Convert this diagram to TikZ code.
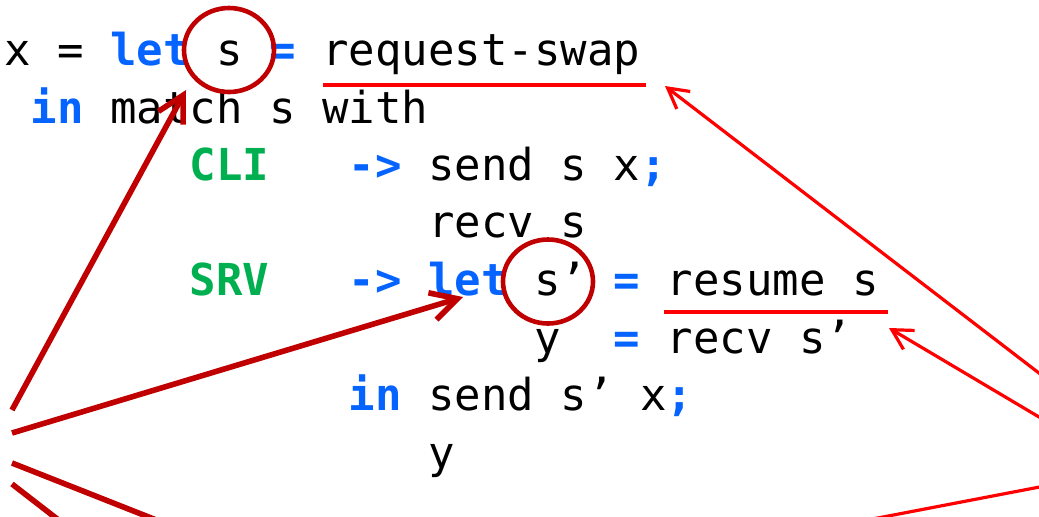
\documentclass[tikz,border=0pt]{standalone}
\usepackage{fontspec}
\setmonofont{DejaVu Sans Mono}
\usetikzlibrary{arrows.meta,shapes.geometric}
\definecolor{kwblue}{RGB}{5,99,255}
\definecolor{kwgreen}{RGB}{0,176,80}
\definecolor{ringred}{RGB}{192,0,0}
\definecolor{linered}{RGB}{255,0,0}
\newcommand{\kw}[1]{\textcolor{kwblue}{\bfseries #1}}
\newcommand{\ct}[1]{\textcolor{kwgreen}{\bfseries #1}}
\begin{document}
\begin{tikzpicture}[x=0.5pt,y=-0.5pt,
  codeline/.style={anchor=base west, inner sep=0pt, font=\ttfamily\fontsize{22}{26}\selectfont},
  ring/.style={draw=ringred, line width=2.3pt, ellipse, inner sep=0pt},
  underl/.style={linered, line width=2pt},
  bigarrow/.style={ringred, line width=2.8pt, -{Straight Barb[length=13pt,width=14pt]}},
  bigline/.style={ringred, line width=2.8pt},
  thinarrow/.style={linered, line width=1.6pt, -{Straight Barb[length=10pt,width=11pt]}},
  thinline/.style={linered, line width=1.6pt}]
\useasboundingbox (0,0) rectangle (1039,516);
\clip (0,0) rectangle (1039,516);
\fill[white] (0,0) rectangle (1039,516);
% code lines
\node[codeline] (l1) at (4,65) {x = \kw{let} s \kw{=} request-swap};
\node[codeline] (l2) at (30.5,123) {\kw{in} match s with};
\node[codeline] (l3) at (189.5,180) {\ct{CLI}\ \ \ \kw{->} send s x\kw{;}};
\node[codeline] (l4) at (428,237) {recv s};
\node[codeline] (l5) at (189.5,295) {\ct{SRV}\ \ \ \kw{->} \kw{let} s’ \kw{=} resume s};
\node[codeline] (l6) at (534,353) {y\ \ \kw{=} recv s’};
\node[codeline] (l7) at (348.5,410) {\kw{in} send s’ x\kw{;}};
\node[codeline] (l8) at (428,468) {y};
% rings
\node[ring, minimum width=45pt, minimum height=42pt] (r1) at (229,50) {};
\node[ring, minimum width=45pt, minimum height=42pt] (r2) at (548,281.5) {};
% underlines
\coordinate (u1a) at (323,85);
\coordinate (u1b) at (646,85);
\coordinate (u2a) at (664,312);
\coordinate (u2b) at (888,312);
\draw[underl] (u1a) -- (u1b);
\draw[underl] (u2a) -- (u2b);
% dark red arrows and lines
\coordinate (s1) at (12,410);
\coordinate (t1) at (186,90);
\coordinate (s2) at (12,433);
\coordinate (t2) at (463,297);
\coordinate (s3) at (12,463);
\coordinate (e3) at (174,527);
\coordinate (s4) at (12,484);
\coordinate (e4) at (65,525);
\draw[bigarrow] (s1) -- (t1);
\draw[bigarrow] (s2) -- (t2);
\draw[bigline] (s3) -- (e3);
\draw[bigline] (s4) -- (e4);
% red arrows and line
\coordinate (q1) at (1050,381.5);
\coordinate (p1) at (665,86);
\coordinate (q2) at (1050,423.5);
\coordinate (p2) at (889,328);
\coordinate (q3) at (1050,485);
\coordinate (p3) at (870,519.5);
\draw[thinarrow] (q1) -- (p1);
\draw[thinarrow] (q2) -- (p2);
\draw[thinline] (q3) -- (p3);
\end{tikzpicture}
\end{document}
